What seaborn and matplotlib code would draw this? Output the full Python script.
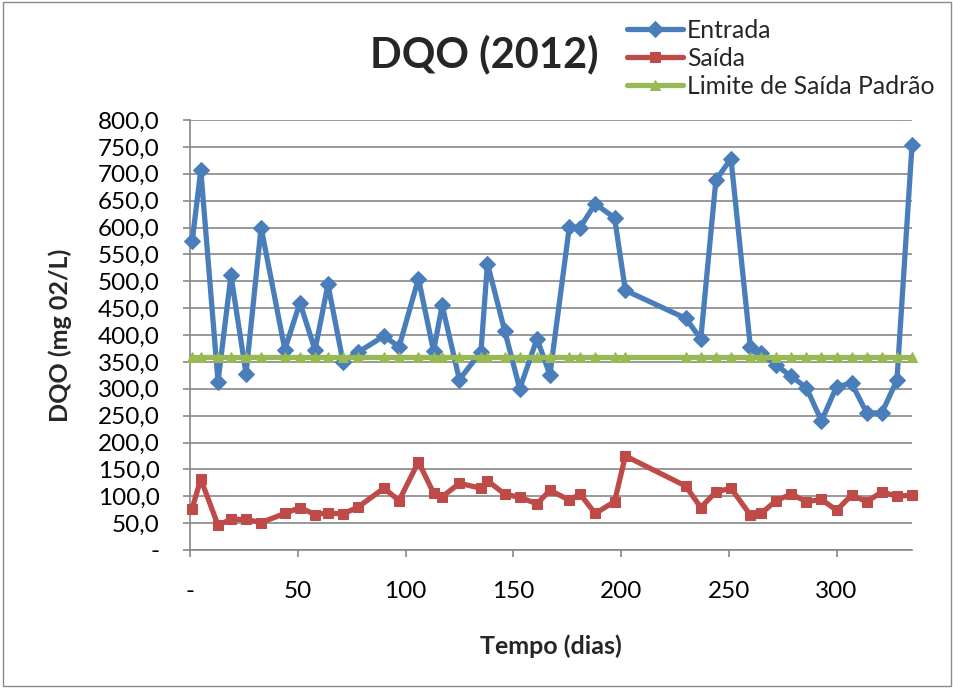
import matplotlib
matplotlib.use("Agg")
import matplotlib.pyplot as plt
import seaborn as sns
from matplotlib.ticker import FuncFormatter, MultipleLocator
from matplotlib.patches import Rectangle

dias = [1, 5, 13, 19, 26, 33, 44, 51, 58, 64, 71, 78, 90, 97, 106, 113, 117, 125, 135, 138,
        146, 153, 161, 167, 176, 181, 188, 197, 202, 230, 237, 244, 251, 260, 265, 272, 279, 286, 293, 300,
        307, 314, 321, 328, 335]
entrada = [574, 707, 313, 511, 328, 600, 373, 460, 372, 494, 350, 368, 398, 378, 505, 370, 455, 317, 369, 533,
           408, 300, 393, 326, 601, 600, 644, 618, 483, 431, 393, 688, 728, 378, 366, 344, 323, 302, 240, 304,
           310, 255, 255, 316, 753]
saida = [77, 132, 46, 57, 57, 51, 68, 79, 66, 69, 67, 80, 115, 92, 164, 106, 99, 124, 115, 129,
         104, 98, 86, 111, 93, 104, 68, 90, 175, 119, 79, 108, 115, 65, 68, 92, 104, 90, 94, 74,
         102, 90, 108, 100, 102]
limite = [360, 360, 360, 360, 360, 360, 360, 360, 360, 360, 360, 360, 360, 360, 360, 360, 360, 360, 360, 360,
          360, 360, 360, 360, 360, 360, 360, 360, 360, 360, 360, 360, 360, 360, 360, 360, 360, 360, 360, 360,
          360, 360, 360, 360, 360]

series_names = ["Entrada", "Saída", "Limite de Saída Padrão"]
titulo = "DQO (2012)"
xlabel = "Tempo (dias)"
ylabel = "DQO (mg 02/L)"

sns.set_theme(style="white")
plt.rcParams['font.family'] = ['Lato', 'DejaVu Sans']

BLUE = "#4A7EBB"
RED = "#BE4B48"
GREEN = "#98B954"
GRID = "#878787"

fig = plt.figure(figsize=(9.54, 6.89), dpi=100)
ax = fig.add_axes([190/954, 1-550/689, (912-190)/954, (550-120)/689])

sns.lineplot(x=dias, y=entrada, ax=ax, color=BLUE, marker="D", markersize=8,
             markeredgecolor=BLUE, linewidth=3.8, label=series_names[0], sort=False,
             errorbar=None, clip_on=False, zorder=3)
sns.lineplot(x=dias, y=saida, ax=ax, color=RED, marker="s", markersize=7.5,
             markeredgecolor=RED, linewidth=3.8, label=series_names[1], sort=False,
             errorbar=None, clip_on=False, zorder=4)
sns.lineplot(x=dias, y=limite, ax=ax, color=GREEN, marker="^", markersize=7.5,
             markeredgecolor=GREEN, linewidth=3.8, label=series_names[2], sort=False,
             errorbar=None, clip_on=False, zorder=5)

ax.set_xlim(0, 335)
ax.set_ylim(0, 800)
ax.yaxis.set_major_locator(MultipleLocator(50))
ax.xaxis.set_major_locator(MultipleLocator(50))

def yfmt(v, pos):
    if abs(v) < 1e-9:
        return "-"
    return f"{v:.1f}".replace(".", ",")

def xfmt(v, pos):
    if abs(v) < 1e-9:
        return "-"
    return f"{int(round(v))}"

ax.yaxis.set_major_formatter(FuncFormatter(yfmt))
ax.xaxis.set_major_formatter(FuncFormatter(xfmt))

ax.grid(axis="y", color=GRID, linewidth=1.2)
ax.grid(axis="x", visible=False)
ax.set_axisbelow(True)
for s in ["top", "right"]:
    ax.spines[s].set_visible(False)
for s in ["left", "bottom"]:
    ax.spines[s].set_color(GRID)
    ax.spines[s].set_linewidth(1.2)

ax.tick_params(axis="y", which="major", direction="out", length=5, width=1.2,
               color=GRID, labelsize=17.5, pad=17, left=True, labelcolor="black")
ax.tick_params(axis="x", which="major", direction="out", length=5, width=1.2,
               color=GRID, labelsize=17.5, pad=17, bottom=True, labelcolor="black")

ax.set_xlabel(xlabel, fontsize=18, fontweight="bold")
ax.set_ylabel(ylabel, fontsize=18, fontweight="bold")
ax.xaxis.set_label_coords(0.5, -(634 - 550) / 430)
ax.yaxis.set_label_coords(-(190 - 72) / 722, 0.5)

fig.text(484/954, 1-54/689, titulo, fontsize=30, fontweight="bold",
         ha="center", va="center")

handles, labels = ax.get_legend_handles_labels()
ax.get_legend().remove()
fig.legend(handles, labels, loc="upper left", bbox_to_anchor=(627/954, 1-19/689),
           frameon=False, fontsize=17.8, handlelength=2.27, handletextpad=0.16,
           labelspacing=0.2, borderpad=0, borderaxespad=0, numpoints=1)

fig.patches.append(Rectangle((0.003, 0.004), 0.994, 0.993, transform=fig.transFigure,
                             fill=False, edgecolor="#8a8a8a", linewidth=1.0))

fig.savefig("out.png", dpi=100)
